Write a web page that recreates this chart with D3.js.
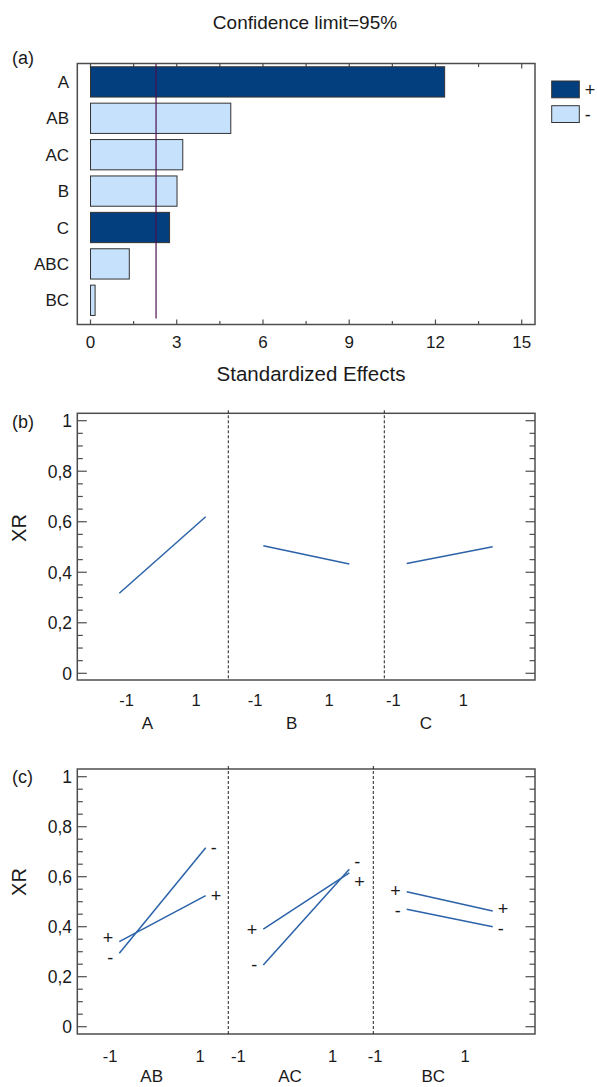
<!DOCTYPE html>
<head>
  <meta charset="utf-8">
  <script src="https://d3js.org/d3.v7.min.js"></script>
  <style>
body { margin:0; background:#fff; }
text {
	font-family: "Liberation Sans", Arial, Helvetica, sans-serif;
	fill: #1a1a1a;
}
.frame {
	fill: none;
	stroke: #4d4d4d;
	stroke-width: 1.5;
}
.tick {
	stroke: #4d4d4d;
	stroke-width: 1.2;
}
.bar {
	stroke: #333;
	stroke-width: 1;
}
.effect-line {
	fill: none;
	stroke: #2b62a8;
	stroke-width: 1.5;
}
.divider {
	stroke: #222;
	stroke-width: 1;
	stroke-dasharray: 3,2;
}
  </style>
</head>

<body>
  <script>
// (a) Pareto chart of standardized effects
const effectNames = ['A', 'AB', 'AC', 'B', 'C', 'ABC', 'BC']
const effectValues = [12.32, 4.88, 3.21, 3.01, 2.75, 1.35, 0.16]
const effectSigns = ['+', '-', '-', '-', '+', '-', '-']
const criticalEffect = 2.28
const effectTicks = [0, 3, 6, 9, 12, 15]

// (b) main effects
const mainFactors = ['A', 'B', 'C']
const mainLow = [0.317, 0.505, 0.435]
const mainHigh = [0.62, 0.433, 0.501]

// (c) interactions, second factor at + and at -
const interFactors = ['AB', 'AC', 'BC']
const interPlusLow = [0.34, 0.39, 0.54]
const interPlusHigh = [0.524, 0.615, 0.463]
const interMinusLow = [0.294, 0.247, 0.47]
const interMinusHigh = [0.716, 0.63, 0.40]

const xrTicks = [0, 0.2, 0.4, 0.6, 0.8, 1]
const levelTicks = [-1, 1]

const colors = { '+': '#033f7e', '-': '#c6e1fb' }

const svg = d3.select('body')
	.append('svg')
	.attr('width', 597)
	.attr('height', 1087)

// ---------- panel (a) ----------
const pa = { left: 77.3, right: 535, top: 63.5, bottom: 324.5 }
const x = d3.scaleLinear().domain([0, 15]).range([90.5, 521.7])
const y = d3.scaleBand()
	.domain(effectNames)
	.range([63.7, 318.5])
	.paddingInner(0.168)
	.paddingOuter(0.084)

const ga = svg.append('g')

ga.append('text')
	.attr('x', 305).attr('y', 29)
	.attr('text-anchor', 'middle')
	.style('font-size', '19px')
	.text('Confidence limit=95%')

ga.append('text')
	.attr('x', 12).attr('y', 64)
	.style('font-size', '18px')
	.text('(a)')

const minorEffect = d3.range(0, 15.01, 1.5)
ga.selectAll('.ttop')
	.data(minorEffect)
	.enter().append('line')
	.attr('class', 'tick')
	.attr('x1', d => x(d)).attr('x2', d => x(d))
	.attr('y1', pa.top).attr('y2', d => pa.top + (d % 3 === 0 ? 5 : 3.5))
ga.selectAll('.tbot')
	.data(minorEffect)
	.enter().append('line')
	.attr('class', 'tick')
	.attr('x1', d => x(d)).attr('x2', d => x(d))
	.attr('y1', pa.bottom).attr('y2', d => pa.bottom - (d % 3 === 0 ? 5 : 3.5))

ga.selectAll('.bar')
	.data(effectNames)
	.enter().append('rect')
	.attr('class', 'bar')
	.attr('x', x(0))
	.attr('y', d => y(d))
	.attr('width', (d, i) => x(effectValues[i]) - x(0))
	.attr('height', y.bandwidth())
	.attr('fill', (d, i) => colors[effectSigns[i]])

ga.append('line')
	.attr('x1', x(criticalEffect)).attr('x2', x(criticalEffect))
	.attr('y1', pa.top).attr('y2', y.range()[1])
	.attr('stroke', '#4a1050')
	.attr('stroke-width', 1.2)

ga.append('rect')
	.attr('class', 'frame')
	.attr('x', pa.left).attr('y', pa.top)
	.attr('width', pa.right - pa.left).attr('height', pa.bottom - pa.top)

ga.selectAll('.cat')
	.data(effectNames)
	.enter().append('text')
	.attr('x', 69)
	.attr('y', d => y(d) + y.bandwidth() / 2)
	.attr('dy', '0.36em')
	.attr('text-anchor', 'end')
	.style('font-size', '17px')
	.text(d => d)

ga.selectAll('.xlab')
	.data(effectTicks)
	.enter().append('text')
	.attr('x', d => x(d))
	.attr('y', 347.5)
	.attr('text-anchor', 'middle')
	.style('font-size', '17px')
	.text(d => d)

ga.append('text')
	.attr('x', 311).attr('y', 381)
	.attr('text-anchor', 'middle')
	.style('font-size', '20.5px')
	.text('Standardized Effects')

// legend
const legend = ga.selectAll('.legend')
	.data(['+', '-'])
	.enter().append('g')
	.attr('transform', (d, i) => `translate(551.7,${81 + i * 24.7})`)
legend.append('rect')
	.attr('class', 'bar')
	.attr('width', 27.6).attr('height', 16.8)
	.attr('fill', d => colors[d])
legend.append('text')
	.attr('x', 33).attr('y', 8.4)
	.attr('dy', '0.36em')
	.style('font-size', '18px')
	.text(d => d)

// ---------- panels (b) and (c) ----------
const lineX = [[119.3, 205.7], [263.3, 349.3], [406.7, 492.7]]

function factorPanel(p, names, series) {
	const g = svg.append('g')
	const yy = d3.scaleLinear().domain([0, 1]).range([p.y0, p.y1])
	const xs = lineX.map(r => d3.scaleLinear().domain([-1, 1]).range(r))

	g.append('rect')
		.attr('class', 'frame')
		.attr('x', 77.3).attr('y', p.top)
		.attr('width', 535 - 77.3).attr('height', p.bottom - p.top)

	const minor = d3.range(0, 20.5, 1).map(d => d / 20)
	const isMajor = d => Math.abs(d * 5 - Math.round(d * 5)) < 1e-6
	g.selectAll('.tl')
		.data(minor)
		.enter().append('line')
		.attr('class', 'tick')
		.attr('x1', 77.3).attr('x2', d => 77.3 + (isMajor(d) ? 9.5 : 5.5))
		.attr('y1', d => yy(d)).attr('y2', d => yy(d))
	g.selectAll('.tr')
		.data(minor)
		.enter().append('line')
		.attr('class', 'tick')
		.attr('x1', 535).attr('x2', d => 535 - (isMajor(d) ? 9.5 : 5.5))
		.attr('y1', d => yy(d)).attr('y2', d => yy(d))

	g.selectAll('.ylab')
		.data(xrTicks)
		.enter().append('text')
		.attr('x', 72)
		.attr('y', d => yy(d))
		.attr('dy', '0.36em')
		.attr('text-anchor', 'end')
		.style('font-size', '17.5px')
		.text(d => d3.format('~g')(d).replace('.', ','))

	g.append('text')
		.attr('transform', `translate(26,${p.xrY}) rotate(-90)`)
		.attr('text-anchor', 'middle')
		.style('font-size', '20px')
		.text('XR')

	g.append('text')
		.attr('x', 12).attr('y', p.tagY)
		.style('font-size', '18px')
		.text(p.tag)

	g.selectAll('.divider')
		.data(p.dividers)
		.enter().append('line')
		.attr('class', 'divider')
		.attr('x1', d => d).attr('x2', d => d)
		.attr('y1', p.top - 3).attr('y2', p.bottom)

	names.forEach((name, i) => {
		levelTicks.forEach((v, j) => {
			g.append('text')
				.attr('x', p.tickX[i][j])
				.attr('y', p.tickY)
				.attr('text-anchor', 'middle')
				.style('font-size', '16.5px')
				.text(v)
		})
		g.append('text')
			.attr('x', p.nameX[i])
			.attr('y', p.nameY)
			.attr('text-anchor', 'middle')
			.style('font-size', '17px')
			.text(name)

		const line = d3.line().x(d => xs[i](d[0])).y(d => yy(d[1]))
		series.forEach(s => {
			g.append('path')
				.attr('class', 'effect-line')
				.attr('d', line([[-1, s.low[i]], [1, s.high[i]]]))
		})

		// level labels at both ends, pushed apart if they collide
		if (series[0].sign) {
			[['low', -1, 'end', -6], ['high', 1, 'start', 5]].forEach(([key, v, anchor, dx]) => {
				let ys = series.map(s => yy(s[key][i]))
				const gap = 20
				if (Math.abs(ys[0] - ys[1]) < gap) {
					const mid = (ys[0] + ys[1]) / 2
					const dir = ys[0] <= ys[1] ? 1 : -1
					ys = [mid - dir * gap / 2, mid + dir * gap / 2]
				}
				series.forEach((s, k) => {
					g.append('text')
						.attr('x', xs[i](v) + dx)
						.attr('y', ys[k])
						.attr('dy', '0.36em')
						.attr('text-anchor', anchor)
						.style('font-size', '18px')
						.text(s.sign)
				})
			})
		}
	})
}

factorPanel({
	top: 413.3, bottom: 680, y0: 673.3, y1: 420.7,
	dividers: [228.3, 384.3],
	tickX: [[126.7, 196], [255, 329], [393.3, 463.3]],
	nameX: [147.3, 291.7, 426],
	tickY: 706, nameY: 729,
	tag: '(b)', tagY: 428, xrY: 528
}, mainFactors, [{ low: mainLow, high: mainHigh }])

factorPanel({
	top: 769, bottom: 1034, y0: 1026.7, y1: 776.7,
	dividers: [228.3, 373.3],
	tickX: [[110, 200], [238.3, 332.7], [375, 465]],
	nameX: [151.7, 290, 433.3],
	tickY: 1061.7, nameY: 1082,
	tag: '(c)', tagY: 783, xrY: 882
}, interFactors, [
	{ low: interPlusLow, high: interPlusHigh, sign: '+' },
	{ low: interMinusLow, high: interMinusHigh, sign: '-' }
])
  </script>
</body>
